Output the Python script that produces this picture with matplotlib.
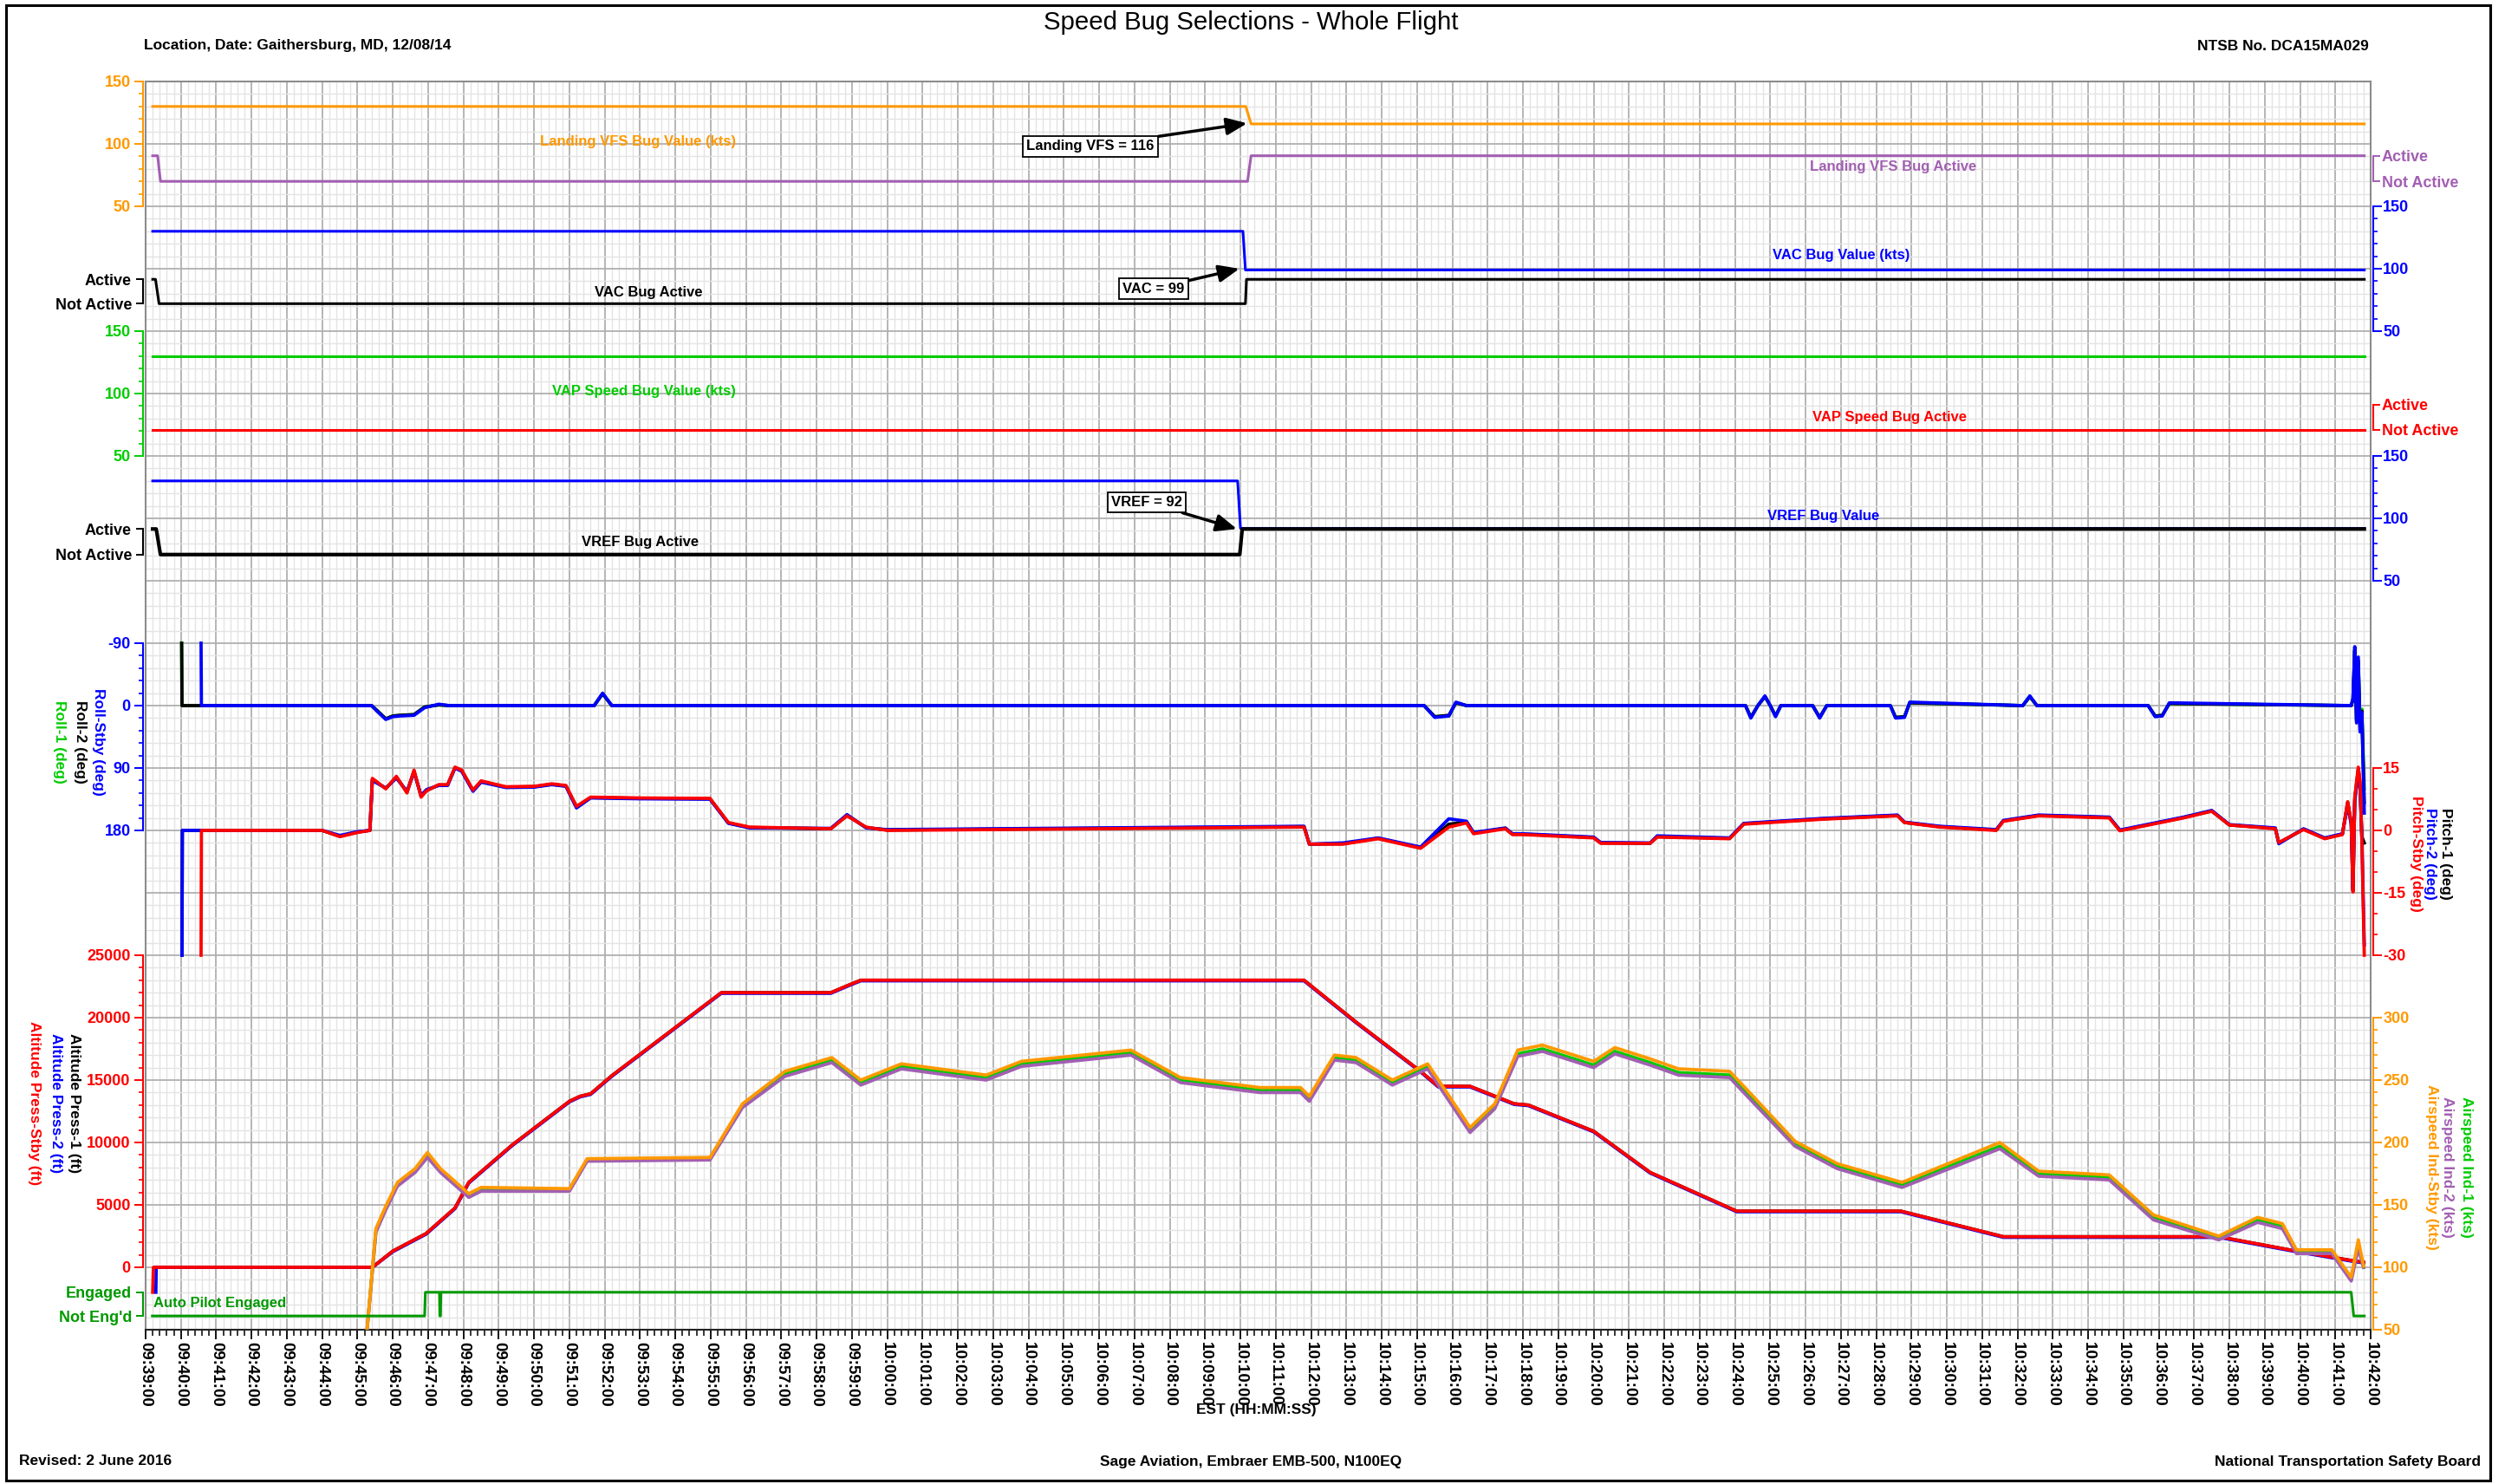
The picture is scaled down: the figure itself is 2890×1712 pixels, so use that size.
import numpy as np
import matplotlib
matplotlib.use('Agg')
import matplotlib.pyplot as plt
from matplotlib.patches import Rectangle
from matplotlib.ticker import MultipleLocator

plt.rcParams['font.family'] = ['Liberation Sans', 'DejaVu Sans']
plt.rcParams['font.weight'] = 'bold'
plt.rcParams['axes.unicode_minus'] = False

# ---- data (x = minutes after 09:39:00 EST) ----
vfs_t = [0.2, 31.15, 31.3, 62.82]
vfs_val = [130, 130, 116, 116]
vfs_act_t = [0.2, 0.34, 0.42, 31.2, 31.3, 62.82]
vfs_act = [1, 1, 0, 0, 1, 1]

vac_t = [0.2, 31.07, 31.14, 62.82]
vac_val = [130, 130, 99, 99]
vac_act_t = [0.2, 0.28, 0.38, 31.14, 31.17, 62.82]
vac_act = [1, 1, 0, 0, 1, 1]

vap_t = [0.2, 62.82]
vap_val = [130, 130]
vap_act_t = [0.2, 62.82]
vap_act = [0, 0]

vref_t = [0.2, 30.92, 31.0, 62.82]
vref_val = [130, 130, 92, 92]
vref_act_t = [0.2, 0.3, 0.42, 30.98, 31.05, 62.82]
vref_act = [1, 1, 0, 0, 1, 1]

roll12_t = [1.02, 1.03, 6.4, 6.55, 6.8, 7.0, 7.2, 7.6, 7.9, 8.3,
            8.6, 12.7, 12.94, 13.2, 36.2, 36.5, 36.9, 37.1, 37.4, 45.3,
            45.45, 45.65, 45.85, 46.0, 46.15, 46.3, 47.2, 47.4, 47.6, 49.4,
            49.55, 49.8, 49.95, 53.15, 53.35, 53.55, 56.7, 56.9, 57.1, 57.3,
            62.45, 62.5, 62.55, 62.6, 62.65, 62.7, 62.75, 62.82]
roll1 = [-90, 0, 0, 7, 19, 15, 14, 13, 2, -1,
         0, 0, -17, 0, 0, 16, 15, -4, 0, 0,
         17, 0, -13, 0, 15, 0, 0, 17, 0, 0,
         17, 16, -4, 0, -13, 0, 0, 15, 14, -3,
         0, -8, -78, 20, -60, 30, 5, 120]
roll2 = [-90, 0, 0, 7, 19, 15, 14, 13, 2, -1,
         0, 0, -17, 0, 0, 16, 14, -4, 0, 0,
         17, 0, -13, 0, 15, 0, 0, 17, 0, 0,
         17, 16, -4, 0, -13, 0, 0, 15, 14, -3,
         0, -9, -80, 22, -65, 35, 8, 140]
roll_stby_t = [1.57, 1.58, 6.4, 6.55, 6.8, 7.0, 7.2, 7.6, 7.9, 8.3,
               8.6, 12.7, 12.94, 13.2, 36.2, 36.5, 36.9, 37.1, 37.4, 45.3,
               45.45, 45.65, 45.85, 46.0, 46.15, 46.3, 47.2, 47.4, 47.6, 49.4,
               49.55, 49.8, 49.95, 53.15, 53.35, 53.55, 56.7, 56.9, 57.1, 57.3,
               62.45, 62.5, 62.55, 62.6, 62.65, 62.7, 62.75, 62.82]
roll_stby = [-90, 0, 0, 8, 20, 16, 15, 14, 3, -2,
             0, 0, -18, 0, 0, 17, 15, -5, 0, 0,
             18, 0, -14, 0, 16, 0, 0, 18, 0, 0,
             18, 17, -5, 0, -14, 0, 0, 16, 15, -4,
             0, -10, -85, 25, -70, 38, 10, 155]

pitch12_t = [1.03, 1.04, 5.0, 5.5, 6.0, 6.35, 6.42, 6.5, 6.8, 7.1,
             7.4, 7.6, 7.8, 7.95, 8.3, 8.55, 8.76, 8.95, 9.27, 9.5,
             10.2, 11.0, 11.5, 11.9, 12.2, 12.6, 14.0, 15.98, 16.5, 17.1,
             19.4, 19.86, 20.4, 21.0, 32.8, 32.95, 33.9, 34.9, 36.1, 36.9,
             37.4, 37.6, 38.5, 38.7, 39.0, 41.0, 41.2, 42.6, 42.8, 44.85,
             45.25, 47.5, 49.6, 49.8, 50.8, 52.4, 52.6, 53.6, 55.6, 55.9,
             57.7, 58.5, 59.0, 60.3, 60.4, 61.1, 61.7, 62.2, 62.35, 62.45,
             62.5, 62.55, 62.65, 62.7, 62.75, 62.82]
pitch1 = [-30, 0, 0, -1.4, -0.4, 0, 12.3, 11.8, 10.1, 12.8,
          9.2, 14.3, 8.2, 9.6, 10.9, 10.9, 15.1, 14.4, 9.6, 11.8,
          10.4, 10.5, 11.1, 10.7, 5.6, 7.9, 7.7, 7.6, 1.8, 0.7,
          0.4, 3.6, 0.7, 0.1, 0.9, -3.3, -3.2, -1.9, -4.2, 1.5,
          2.0, -0.6, 0.5, -0.9, -0.9, -1.7, -3.0, -3.1, -1.5, -1.9,
          1.6, 2.8, 3.6, 1.9, 0.9, 0.1, 2.3, 3.6, 3.1, 0.0,
          3.1, 4.7, 1.3, 0.5, -3.0, 0.3, -1.9, -0.9, 6.8, 1.8,
          -14.5, 7.5, 14.8, 11.0, -1.5, -3.0]
pitch2 = [-30, 0, 0, -1.2, -0.3, 0, 12.0, 11.6, 10.2, 12.6,
          9.4, 14.0, 8.4, 9.8, 10.8, 10.8, 15.0, 14.2, 9.4, 11.6,
          10.3, 10.4, 11.0, 10.6, 5.4, 7.8, 7.6, 7.5, 1.7, 0.6,
          0.5, 3.8, 0.6, 0.2, 1.0, -3.3, -3.0, -1.8, -4.0, 2.8,
          2.2, -0.5, 0.6, -0.8, -0.8, -1.6, -2.9, -3.0, -1.3, -1.8,
          1.7, 2.9, 3.7, 2.0, 1.0, 0.2, 2.4, 3.7, 3.2, 0.1,
          3.2, 4.8, 1.4, 0.6, -3.2, 0.4, -1.8, -0.8, 6.0, 1.5,
          -14.0, 7.0, 14.0, 10.0, -1.0, -27.5]
pitch_stby_t = [1.57, 1.58, 5.0, 5.5, 6.0, 6.35, 6.42, 6.5, 6.8, 7.1,
                7.4, 7.6, 7.8, 7.95, 8.3, 8.55, 8.76, 8.95, 9.27, 9.5,
                10.2, 11.0, 11.5, 11.9, 12.2, 12.6, 14.0, 15.98, 16.5, 17.1,
                19.4, 19.86, 20.4, 21.0, 32.8, 32.95, 33.9, 34.9, 36.1, 36.9,
                37.4, 37.6, 38.5, 38.7, 39.0, 41.0, 41.2, 42.6, 42.8, 44.85,
                45.25, 47.5, 49.6, 49.8, 50.8, 52.4, 52.6, 53.6, 55.6, 55.9,
                57.7, 58.5, 59.0, 60.3, 60.4, 61.1, 61.7, 62.2, 62.35, 62.45,
                62.5, 62.55, 62.65, 62.7, 62.75, 62.82]
pitch_stby = [-30, 0, 0, -1.5, -0.5, 0, 12.5, 12, 10, 13,
              9, 14.5, 8, 9.5, 11, 11, 15.2, 14.5, 9.7, 11.9,
              10.5, 10.6, 11.2, 10.8, 5.8, 8.0, 7.8, 7.7, 1.9, 0.8,
              0.4, 3.5, 0.8, 0, 0.8, -3.3, -3.3, -2.0, -4.3, 0.8,
              1.8, -0.8, 0.4, -1.0, -1.0, -1.8, -3.1, -3.1, -1.6, -2.0,
              1.5, 2.7, 3.5, 1.9, 0.8, 0, 2.2, 3.5, 3.0, -0.1,
              3.0, 4.6, 1.3, 0.4, -2.9, 0.2, -2.0, -1.0, 6.9, 2.0,
              -14.8, 8.0, 15.2, 12.0, -2.0, -30]

alt12_t = [0.29, 0.3, 6.42, 7.0, 7.94, 8.76, 9.15, 10.38, 12.0, 12.3,
           12.6, 13.2, 16.3, 19.4, 19.9, 20.25, 32.8, 34.27, 36.1, 36.6,
           37.5, 38.75, 39.15, 41.0, 42.6, 45.05, 49.7, 52.6, 58.7, 60.7,
           62.55, 62.8]
alt1 = [0, 0, 0, 1300, 2700, 4750, 6800, 9800, 13300, 13700,
        13900, 15350, 22000, 22000, 22600, 23000, 23000, 19650, 15700, 14500,
        14500, 13100, 13000, 10900, 7600, 4500, 4500, 2450, 2450, 1400,
        500, 400]
alt2 = [-2000, 0, 0, 1250, 2650, 4700, 6750, 9750, 13250, 13650,
        13850, 15300, 21950, 21950, 22550, 22950, 22950, 19600, 15650, 14450,
        14450, 13050, 12950, 10850, 7550, 4450, 4450, 2400, 2400, 1350,
        450, 350]
alt_stby_t = [0.2, 0.22, 6.42, 7.0, 7.94, 8.76, 9.15, 10.38, 12.0, 12.3,
              12.6, 13.2, 16.3, 19.4, 19.9, 20.25, 32.8, 34.27, 36.1, 36.6,
              37.5, 38.75, 39.15, 41.0, 42.6, 45.05, 49.7, 52.6, 58.7, 60.7,
              62.55, 62.8]
alt_stby = [-2000, 0, 0, 1300, 2700, 4750, 6800, 9800, 13300, 13700,
            13900, 15350, 22000, 22000, 22600, 23000, 23000, 19650, 15700, 14500,
            14500, 13100, 13000, 10900, 7600, 4500, 4500, 2450, 2450, 1400,
            500, 400]

ias_t = [6.27, 6.52, 6.8, 7.13, 7.63, 7.98, 8.35, 9.15, 9.5, 12.0,
         12.5, 15.98, 16.9, 18.1, 19.43, 20.25, 21.4, 23.8, 24.8, 27.9,
         29.3, 31.55, 32.7, 32.95, 33.66, 34.27, 35.3, 36.3, 37.5, 38.2,
         38.85, 39.55, 41.0, 41.6, 42.6, 43.4, 44.85, 45.45, 46.7, 47.9,
         49.73, 52.5, 53.6, 55.6, 56.85, 58.7, 59.8, 60.5, 60.9, 61.9,
         62.45, 62.65, 62.8]
ias_stby = [50, 131, 149, 168, 179, 192, 179, 159, 164, 163,
            187, 188, 231, 257, 268, 250, 263, 254, 265, 274,
            252, 244, 244, 237, 270, 268, 250, 263, 212, 231,
            274, 278, 265, 276, 267, 259, 257, 239, 201, 183,
            168, 200, 177, 174, 142, 125, 140, 135, 114, 114,
            92, 122, 101]
ias2 = [50, 128, 146, 165, 176, 188, 176, 156, 161, 161,
        185, 186, 228, 253, 264, 246, 259, 250, 261, 270,
        248, 240, 240, 233, 266, 264, 246, 259, 208, 227,
        269, 273, 260, 271, 262, 254, 252, 234, 197, 179,
        164, 195, 173, 170, 138, 122, 136, 131, 111, 111,
        89, 115, 100]
ias1 = [50, 129, 147, 166, 177, 190, 177, 157, 162, 162,
        186, 187, 229, 255, 266, 248, 261, 252, 263, 272,
        250, 242, 242, 235, 268, 266, 248, 261, 210, 229,
        271, 275, 262, 273, 264, 256, 254, 236, 199, 181,
        166, 197, 175, 172, 140, 123, 138, 133, 112, 112,
        90, 118, 100]

ap_t = [0.19, 7.9, 7.92, 8.32, 8.33, 8.35, 8.36, 62.45, 62.52, 62.82]
ap = [0, 0, 1, 1, 0, 0, 1, 1, 0, 0]

start_min = 9 * 60 + 39
time_labels = ['%02d:%02d:00' % ((start_min + m) // 60, (start_min + m) % 60) for m in range(64)]

# ---- layout ----
W, H = 2890, 1712
ORANGE, PURPLE, BLUE = '#FF9900', '#A25FB2', '#0000FF'
GREEN, DKGREEN, RED, BLACK = '#00CC00', '#009900', '#FF0000', '#000000'
N = 20  # grid rows in the plot area

fig = plt.figure(figsize=(W / 100, H / 100), dpi=100)
RECT = [168 / W, (H - 1534) / H, (2735 - 168) / W, (1534 - 94) / H]


def P(x, y):
    return x / W, 1 - y / H


ax0 = fig.add_axes(RECT)
ax0.set_xlim(0, 63)
ax0.set_ylim(N, 0)
ax0.set_xticks(range(64))
ax0.set_xticklabels(time_labels)
ax0.xaxis.set_minor_locator(MultipleLocator(0.2))
ax0.yaxis.set_major_locator(MultipleLocator(1))
ax0.yaxis.set_minor_locator(MultipleLocator(0.2))
ax0.grid(which='major', color='#b0b0b0', lw=1.3)
ax0.grid(which='minor', color='#e4e4e4', lw=1.0)
ax0.set_axisbelow(True)
ax0.tick_params(axis='y', which='both', left=False, labelleft=False)
ax0.tick_params(axis='x', which='major', length=8, width=1.3, labelsize=13.5, pad=2, labelrotation=-90)
ax0.tick_params(axis='x', which='minor', length=5, width=1.1)
for name, sp in ax0.spines.items():
    sp.set_color('#8c8c8c' if name != 'bottom' else '#222222')
    sp.set_linewidth(1.5)


def overlay(v_ref, u_ref, per_unit, side, color, bounds, major, labels=None, minor=None, tick_len=7):
    ax = fig.add_axes(RECT, sharex=ax0)
    ax.patch.set_visible(False)
    ax.set_ylim(v_ref - (N - u_ref) * per_unit, v_ref + u_ref * per_unit)
    for name, sp in ax.spines.items():
        sp.set_visible(name == side)
    sp = ax.spines[side]
    sp.set_color(color)
    sp.set_linewidth(1.5)
    sp.set_bounds(*bounds)
    sp.set_position(('outward', 2))
    ax.yaxis.set_ticks_position(side)
    ax.set_yticks(major)
    if labels is not None:
        ax.set_yticklabels(labels)
    if minor is not None:
        ax.set_yticks(minor, minor=True)
    ax.tick_params(axis='y', which='major', colors=color, length=tick_len, width=1.4,
                   pad=3.5 if side == 'left' else 1.2, labelsize=13)
    ax.tick_params(axis='y', which='minor', colors=color, length=3.6, width=1.2)
    ax.tick_params(axis='x', which='both', bottom=False, top=False, labelbottom=False)
    return ax


def status(u_on, u_off, side, color, labels):
    return overlay(1, u_on, 1 / (u_off - u_on), side, color, (0, 1), [0, 1], labels, tick_len=6)


kts_minor = np.arange(50, 151, 10)
ax_vfs = overlay(150, 0, 50, 'left', ORANGE, (50, 150), [50, 100, 150], minor=kts_minor)
ax_vfs_a = status(1.19, 1.6, 'right', PURPLE, ['Not Active', 'Active'])
ax_vac = overlay(150, 2, 50, 'right', BLUE, (50, 150), [50, 100, 150], minor=kts_minor)
ax_vac_a = status(3.17, 3.56, 'left', BLACK, ['Not Active', 'Active'])
ax_vap = overlay(150, 4, 50, 'left', GREEN, (50, 150), [50, 100, 150], minor=kts_minor)
ax_vap_a = status(5.18, 5.58, 'right', RED, ['Not Active', 'Active'])
ax_vref = overlay(150, 6, 50, 'right', BLUE, (50, 150), [50, 100, 150], minor=kts_minor)
ax_vref_a = status(7.17, 7.58, 'left', BLACK, ['Not Active', 'Active'])
ax_roll = overlay(-90, 9, -90, 'left', BLUE, (-90, 180), [-90, 0, 90, 180], minor=np.arange(-90, 181, 18))
ax_pitch = overlay(15, 11, 15, 'right', RED, (-30, 15), [-30, -15, 0, 15], minor=np.arange(-30, 16, 5))
ax_alt = overlay(25000, 14, 5000, 'left', RED, (0, 25000), list(range(0, 25001, 5000)),
                 minor=np.arange(0, 25001, 1000))
ax_ias = overlay(300, 15, 50, 'right', ORANGE, (50, 300), list(range(50, 301, 50)), minor=np.arange(50, 301, 10))
ax_ap = status(19.4, 19.78, 'left', DKGREEN, ["Not Eng'd", 'Engaged'])

LW_BUG, LW = 2.2, 2.7
ax_vfs.plot(vfs_t, vfs_val, color=ORANGE, lw=LW_BUG)
ax_vfs_a.plot(vfs_act_t, vfs_act, color=PURPLE, lw=LW_BUG)
ax_vac.plot(vac_t, vac_val, color=BLUE, lw=LW_BUG)
ax_vac_a.plot(vac_act_t, vac_act, color=BLACK, lw=LW_BUG)
ax_vap.plot(vap_t, vap_val, color=GREEN, lw=LW_BUG)
ax_vap_a.plot(vap_act_t, vap_act, color=RED, lw=LW_BUG)
ax_vref_a.plot(vref_act_t, vref_act, color=BLACK, lw=LW_BUG + 0.8)
ax_vref.plot(vref_t, vref_val, color=BLUE, lw=LW_BUG)

ax_roll.plot(roll12_t, roll1, color=GREEN, lw=LW)
ax_roll.plot(roll12_t, roll2, color=BLACK, lw=LW)
ax_roll.plot(roll_stby_t, roll_stby, color=BLUE, lw=LW)
ax_pitch.plot(pitch12_t, pitch1, color=BLACK, lw=LW)
ax_pitch.plot(pitch12_t, pitch2, color=BLUE, lw=LW)
ax_pitch.plot(pitch_stby_t, pitch_stby, color=RED, lw=LW)
ax_alt.plot(alt12_t, alt1, color=BLACK, lw=LW)
ax_alt.plot(alt12_t, alt2, color=BLUE, lw=LW)
ax_alt.plot(alt_stby_t, alt_stby, color=RED, lw=LW)
ax_ias.plot(ias_t, ias1, color=GREEN, lw=LW)
ax_ias.plot(ias_t, ias2, color=PURPLE, lw=LW)
ax_ias.plot(ias_t, ias_stby, color=ORANGE, lw=LW)
ax_ap.plot(ap_t, ap, color=DKGREEN, lw=LW_BUG)

# in-plot captions
cap = dict(ha='center', va='center', fontsize=12)
ax_vfs.text(13.94, 101.5, 'Landing VFS Bug Value (kts)', color=ORANGE, **cap)
ax_vfs_a.text(49.47, 0.55, 'Landing VFS Bug Active', color=PURPLE, **cap)
ax_vac.text(48.0, 110.5, 'VAC Bug Value (kts)', color=BLUE, **cap)
ax_vac_a.text(14.23, 0.47, 'VAC Bug Active', color=BLACK, **cap)
ax_vap.text(14.1, 101.5, 'VAP Speed Bug Value (kts)', color=GREEN, **cap)
ax_vap_a.text(49.37, 0.51, 'VAP Speed Bug Active', color=RED, **cap)
ax_vref.text(47.5, 102, 'VREF Bug Value', color=BLUE, **cap)
ax_vref_a.text(14.0, 0.5, 'VREF Bug Active', color=BLACK, **cap)
ax_ap.text(0.22, 0.55, 'Auto Pilot Engaged', color=DKGREEN, ha='left', va='center', fontsize=12)

box = dict(boxstyle='square,pad=0.25', fc='white', ec='black', lw=1.3)
arrow = dict(arrowstyle='-|>,head_length=1.2,head_width=0.5', color='black', lw=2.5, shrinkA=0, shrinkB=0)
ax_vfs.annotate('Landing VFS = 116', xy=(31.19, 116.5), xytext=(26.75, 98), ha='center', va='center',
                fontsize=12, bbox=box, arrowprops=arrow)
ax_vac.annotate('VAC = 99', xy=(30.97, 100), xytext=(28.54, 84), ha='center', va='center',
                fontsize=12, bbox=box, arrowprops=arrow)
ax_vref.annotate('VREF = 92', xy=(30.9, 91.5), xytext=(28.34, 113), ha='center', va='center',
                 fontsize=12, bbox=box, arrowprops=arrow)

# rotated axis titles
vlab = dict(rotation=-90, ha='center', va='center', fontsize=12.5)
for x, txt, c in [(113, 'Roll-Stby (deg)', BLUE), (92, 'Roll-2 (deg)', BLACK), (68, 'Roll-1 (deg)', GREEN)]:
    fig.text(*P(x, 856), txt, color=c, **vlab)
for x, txt, c in [(85, 'Altitude Press-1 (ft)', BLACK), (64, 'Altitude Press-2 (ft)', BLUE),
                  (39, 'Altitude Press-Stby (ft)', RED)]:
    fig.text(*P(x, 1273), txt, color=c, **vlab)
for x, txt, c in [(2787, 'Pitch-Stby (deg)', RED), (2804, 'Pitch-2 (deg)', BLUE), (2822, 'Pitch-1 (deg)', BLACK)]:
    fig.text(*P(x, 985), txt, color=c, **vlab)
for x, txt, c in [(2805, 'Airspeed Ind-Stby (kts)', ORANGE), (2824, 'Airspeed Ind-2 (kts)', PURPLE),
                  (2845, 'Airspeed Ind-1 (kts)', GREEN)]:
    fig.text(*P(x, 1346), txt, color=c, **vlab)

# header / footer
fig.text(*P(1443, 26), 'Speed Bug Selections - Whole Flight', ha='center', va='center',
         fontsize=21.2, fontweight='normal')
fig.text(*P(166, 53), 'Location, Date: Gaithersburg, MD, 12/08/14', ha='left', va='center', fontsize=12.5)
fig.text(*P(2733, 53), 'NTSB No. DCA15MA029', ha='right', va='center', fontsize=12.5)
fig.text(*P(1449, 1627), 'EST (HH:MM:SS)', ha='center', va='center', fontsize=12.5)
fig.text(*P(22, 1686), 'Revised: 2 June 2016', ha='left', va='center', fontsize=12.5)
fig.text(*P(1443, 1686), 'Sage Aviation, Embraer EMB-500, N100EQ', ha='center', va='center', fontsize=12.5)
fig.text(*P(2862, 1686), 'National Transportation Safety Board', ha='right', va='center', fontsize=12.5)

fig.patches.append(Rectangle((7 / W, 4 / H), (2873 - 7) / W, 1702 / H, transform=fig.transFigure,
                             fill=False, ec='black', lw=2.2))

fig.savefig('out.png', dpi=100)
